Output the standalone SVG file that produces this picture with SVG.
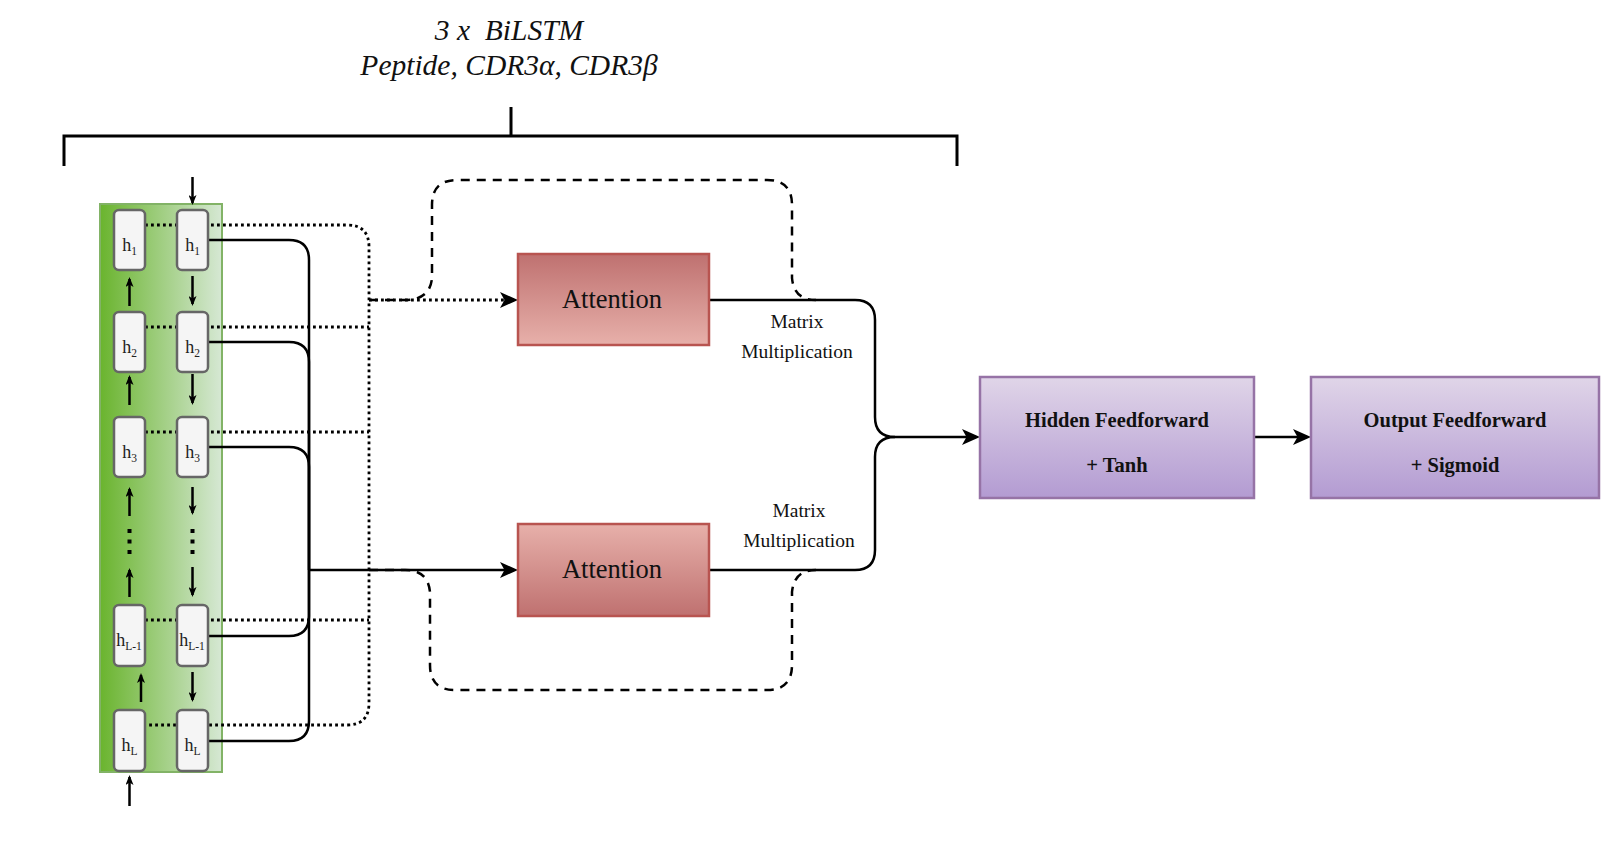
<svg xmlns="http://www.w3.org/2000/svg" width="1621" height="843" viewBox="0 0 1621 843">
<defs>
<linearGradient id="gGreen" x1="0" y1="0" x2="1" y2="0"><stop offset="0" stop-color="#6ab42e"/><stop offset="1" stop-color="#d6e8d4"/></linearGradient>
<linearGradient id="gAttDown" x1="0" y1="0" x2="0" y2="1"><stop offset="0" stop-color="#bf7170"/><stop offset="1" stop-color="#e7b0aa"/></linearGradient>
<linearGradient id="gAttUp" x1="0" y1="0" x2="0" y2="1"><stop offset="0" stop-color="#e7b0aa"/><stop offset="1" stop-color="#bf7170"/></linearGradient>
<linearGradient id="gPurple" x1="0" y1="0" x2="0" y2="1"><stop offset="0" stop-color="#e0d5e8"/><stop offset="1" stop-color="#b39bd2"/></linearGradient>
<marker id="aBig" markerUnits="userSpaceOnUse" markerWidth="18" markerHeight="16" refX="14" refY="8" orient="auto"><path d="M0,0 L18,8 L0,16 L4.5,8 Z" fill="#000"/></marker>
<marker id="aSm" markerUnits="userSpaceOnUse" markerWidth="10" markerHeight="8" refX="8" refY="4" orient="auto"><path d="M0,0 L10,4 L0,8 L2.5,4 Z" fill="#000"/></marker>
</defs>
<style>
.cell{fill:#f5f5f5;stroke:#666666;stroke-width:2.5}
.hl{font-family:"Liberation Serif",serif;font-size:18px;fill:#222;text-anchor:middle}
.sub{font-size:11.5px}
.dot{fill:none;stroke:#000;stroke-width:2.8;stroke-dasharray:2.8 3.2}
.sol{fill:none;stroke:#000;stroke-width:2.5}
.dash{fill:none;stroke:#000;stroke-width:2.5;stroke-dasharray:9 7}
.sa{fill:none;stroke:#000;stroke-width:2.5;marker-end:url(#aSm)}
.att{stroke:#b85450;stroke-width:2.5}
.attt{font-family:"Liberation Serif",serif;font-size:26.5px;fill:#111;text-anchor:middle}
.ff{fill:url(#gPurple);stroke:#9673a6;stroke-width:2.5}
.fft{font-family:"Liberation Serif",serif;font-size:20.5px;font-weight:bold;fill:#111;text-anchor:middle}
.mm{font-family:"Liberation Serif",serif;font-size:19.5px;fill:#111;text-anchor:middle}
.ttl{font-family:"Liberation Serif",serif;font-size:29.5px;font-style:italic;fill:#111;text-anchor:middle}
</style>

<g id="title">
<text class="ttl" x="509" y="40">3 x&#160; BiLSTM</text>
<text class="ttl" x="509" y="75">Peptide, CDR3α, CDR3β</text>
<path d="M64,166 V136 H957 V166 M511,107 V136" fill="none" stroke="#000" stroke-width="3"/>
</g>

<g id="bilstm">
<rect x="100" y="204" width="122" height="568" fill="url(#gGreen)" stroke="#82b366" stroke-width="2"/>
</g>

<g id="connectors">
<path class="dot" d="M145,225 H347 Q369,225 369,247 V703 Q369,725 347,725 H145"/>
<path class="dot" d="M145,327 H369 M145,432 H369 M145,620 H369"/>
<path class="dot" d="M369,300 H514" marker-end="url(#aBig)"/>
<path class="sol" d="M208,240 H289 Q309,240 309,260 V570"/>
<path class="sol" d="M208,342 H289 Q309,342 309,362 V570"/>
<path class="sol" d="M208,447 H289 Q309,447 309,467 V570"/>
<path class="sol" d="M208,636 H289 Q309,636 309,616 V570"/>
<path class="sol" d="M208,741 H289 Q309,741 309,721 V570"/>
<path class="sol" d="M309,570 H514" marker-end="url(#aBig)"/>
<path class="dash" d="M369,300 H405 Q430,300 432,278 V205 Q432,180 457,180 H767 Q792,180 792,205 V278 Q794,300 816,300"/>
<path class="dash" d="M369,570 H405 Q428,570 430,592 V665 Q430,690 455,690 H767 Q792,690 792,665 V592 Q794,570 816,570"/>
<path class="sol" d="M709,300 H855 Q875,300 875,320 V417 Q875,437 895,437 H976" marker-end="url(#aBig)"/>
<path class="sol" d="M709,570 H855 Q875,570 875,550 V457 Q875,437 895,437"/>
<path class="sol" d="M1254,437 H1307" marker-end="url(#aBig)"/>
<path class="sa" d="M192.5,177 V203"/>
<path class="sa" d="M129.5,806 V777"/>
<path class="sa" d="M129.5,306 V279"/>
<path class="sa" d="M129.5,405 V377"/>
<path class="sa" d="M129.5,516 V489"/>
<path class="sa" d="M129.5,597 V570"/>
<path class="sa" d="M141,702 V675"/>
<path class="sa" d="M192.5,276 V304"/>
<path class="sa" d="M192.5,374 V403"/>
<path class="sa" d="M192.5,487 V513"/>
<path class="sa" d="M192.5,567 V595"/>
<path class="sa" d="M192.5,672 V700"/>
<path d="M127.5,529 h4 v4 h-4 z M127.5,539.5 h4 v4 h-4 z M127.5,550 h4 v4 h-4 z M190.5,529 h4 v4 h-4 z M190.5,539.5 h4 v4 h-4 z M190.5,550 h4 v4 h-4 z" fill="#000"/>
</g>

<g id="cell-l1"><rect class="cell" x="114" y="210" width="31" height="60" rx="5"/><text class="hl" x="129.5" y="251">h<tspan class="sub" dy="4">1</tspan></text></g>
<g id="cell-r1"><rect class="cell" x="177" y="210" width="31" height="60" rx="5"/><text class="hl" x="192.5" y="251">h<tspan class="sub" dy="4">1</tspan></text></g>
<g id="cell-l2"><rect class="cell" x="114" y="312" width="31" height="60" rx="5"/><text class="hl" x="129.5" y="353">h<tspan class="sub" dy="4">2</tspan></text></g>
<g id="cell-r2"><rect class="cell" x="177" y="312" width="31" height="60" rx="5"/><text class="hl" x="192.5" y="353">h<tspan class="sub" dy="4">2</tspan></text></g>
<g id="cell-l3"><rect class="cell" x="114" y="417" width="31" height="60" rx="5"/><text class="hl" x="129.5" y="458">h<tspan class="sub" dy="4">3</tspan></text></g>
<g id="cell-r3"><rect class="cell" x="177" y="417" width="31" height="60" rx="5"/><text class="hl" x="192.5" y="458">h<tspan class="sub" dy="4">3</tspan></text></g>
<g id="cell-lL1"><rect class="cell" x="114" y="605" width="31" height="61" rx="5"/><text class="hl" x="129" y="646">h<tspan class="sub" dy="4">L-1</tspan></text></g>
<g id="cell-rL1"><rect class="cell" x="177" y="605" width="31" height="61" rx="5"/><text class="hl" x="192" y="646">h<tspan class="sub" dy="4">L-1</tspan></text></g>
<g id="cell-lL"><rect class="cell" x="114" y="710" width="31" height="61" rx="5"/><text class="hl" x="129.5" y="751">h<tspan class="sub" dy="4">L</tspan></text></g>
<g id="cell-rL"><rect class="cell" x="177" y="710" width="31" height="61" rx="5"/><text class="hl" x="192.5" y="751">h<tspan class="sub" dy="4">L</tspan></text></g>

<g id="attention-top"><rect class="att" x="518" y="254" width="191" height="91" fill="url(#gAttDown)"/><text class="attt" x="612" y="308">Attention</text></g>
<g id="attention-bottom"><rect class="att" x="518" y="524" width="191" height="92" fill="url(#gAttUp)"/><text class="attt" x="612" y="578">Attention</text></g>

<g id="label-mm-top"><text class="mm" x="797" y="328">Matrix</text><text class="mm" x="797" y="358">Multiplication</text></g>
<g id="label-mm-bottom"><text class="mm" x="799" y="517">Matrix</text><text class="mm" x="799" y="547">Multiplication</text></g>

<g id="hidden-ff"><rect class="ff" x="980" y="377" width="274" height="121"/><text class="fft" x="1117" y="427">Hidden Feedforward</text><text class="fft" x="1117" y="472">+ Tanh</text></g>
<g id="output-ff"><rect class="ff" x="1311" y="377" width="288" height="121"/><text class="fft" x="1455" y="427">Output Feedforward</text><text class="fft" x="1455" y="472">+ Sigmoid</text></g>
</svg>
